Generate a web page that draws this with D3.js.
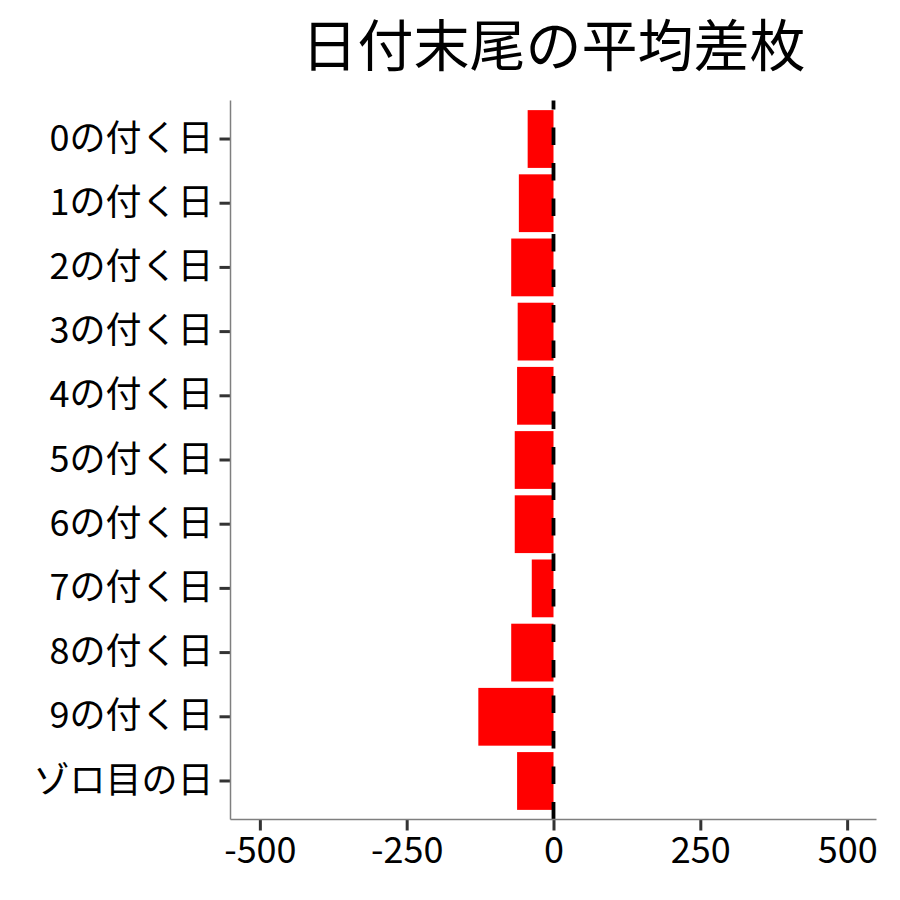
<!DOCTYPE html>
<html>
<head>
<meta charset="utf-8">
<script src="https://cdn.jsdelivr.net/npm/d3@7"></script>
<style>
body{margin:0;background:#fff}
text{font-family:"Noto Sans CJK JP","Noto Sans",sans-serif}
</style>
</head>
<body>
<script>
// data
var days = ["0の付く日","1の付く日","2の付く日","3の付く日","4の付く日","5の付く日","6の付く日","7の付く日","8の付く日","9の付く日","ゾロ目の日"]
var diffs = [-44,-59,-72,-61,-62,-66,-66,-37,-72,-128,-62]
var xticks = [-500,-250,0,250,500]
var title = "日付末尾の平均差枚"

var W=900,H=900
var pLeft=230.5,pRight=876.5,pTop=100.5,pBottom=819.5

var svg=d3.select("body").append("svg").attr("width",W).attr("height",H)

var x=d3.scaleLinear().domain([-550,550]).range([pLeft,pRight])
// ggplot style: 0.6 step of space at each end, bars 0.9 wide
var y=d3.scaleBand().domain(days).range([pTop,pBottom]).paddingInner(0.1).paddingOuter(0.15)

svg.selectAll("rect.bar").data(days).enter()
    .append("rect").attr("class","bar")
    .attr("x",function(d,i){return x(Math.min(0,diffs[i]))})
    .attr("width",function(d,i){return Math.abs(x(diffs[i])-x(0))})
    .attr("y",function(d){return y(d)})
    .attr("height",y.bandwidth())
    .style("fill","#ff0000")

// dashed zero line
svg.append("line")
    .attr("x1",x(0)).attr("x2",x(0))
    .attr("y1",pBottom).attr("y2",pTop)
    .style("stroke","#000").style("stroke-width",3.8)
    .style("stroke-dasharray","17.5,18")

// x axis
var xa=svg.append("g").attr("transform","translate(0,"+pBottom+")")
    .call(d3.axisBottom(x).tickValues(xticks).tickSize(11).tickPadding(7).tickFormat(function(d){return String(d)}))
xa.select(".domain").remove()
xa.attr("font-family",null)
xa.selectAll(".tick line").style("stroke","#333").style("stroke-width",3)
xa.selectAll(".tick text").style("font-size","36px").style("fill","#000")

// y axis
var ya=svg.append("g").attr("transform","translate("+pLeft+",0)")
    .call(d3.axisLeft(y).tickSize(11).tickPadding(6))
ya.select(".domain").remove()
ya.attr("font-family",null)
ya.selectAll(".tick line").style("stroke","#333").style("stroke-width",3)
ya.selectAll(".tick text").style("font-size","36px").style("fill","#000")

// axis lines
svg.append("line").attr("x1",pLeft).attr("x2",pRight).attr("y1",pBottom).attr("y2",pBottom)
    .style("stroke","#7f7f7f").style("stroke-width",1.5)
svg.append("line").attr("x1",pLeft).attr("x2",pLeft).attr("y1",pTop).attr("y2",pBottom)
    .style("stroke","#7f7f7f").style("stroke-width",1.5)

svg.append("text").attr("x",(pLeft+pRight)/2).attr("y",66)
    .attr("text-anchor","middle").style("font-size","56px").style("fill","#000")
    .text(title)
</script>
</body>
</html>
